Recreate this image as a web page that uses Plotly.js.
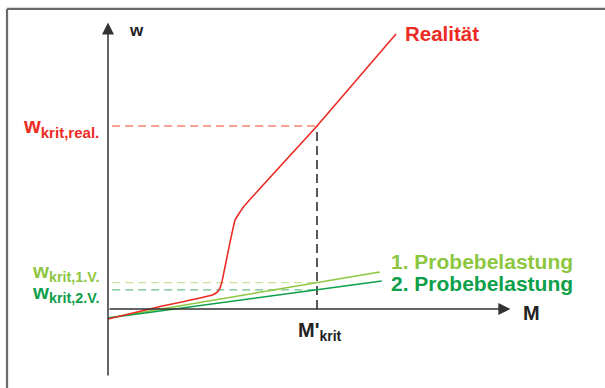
<!DOCTYPE html>
<html>
<head>
<meta charset="utf-8">
<script src="https://cdn.plot.ly/plotly-3.0.1.min.js"></script>
<style>
  html, body { margin: 0; padding: 0; background: #fff; }
  #chart { width: 605px; height: 388px; }
</style>
</head>
<body>
<div id="chart"></div>
<script>
// Deflection w versus moment M: real behaviour and two proof-load tests
const realM = [0, 0.26, 0.5, 0.525, 0.536, 0.545, 0.608, 0.65, 1.0, 1.378];
const realW = [-0.055, 0.016, 0.077, 0.095, 0.115, 0.148, 0.486, 0.56, 1.0, 1.503];

const probe1M = [0, 1.30];
const probe1W = [-0.049, 0.202];
const probe2M = [0, 1.31];
const probe2W = [-0.049, 0.153];

// Critical values read at M'krit
const mKrit = 1.0;
const wKritReal = 1.0;
const wKrit1 = 0.144;
const wKrit2 = 0.105;

// Axis extents
const mAxisEnd = 1.925;
const wAxisTop = 1.565;
const wAxisBottom = -0.372;
const guideStart = 0.02;

const RED = '#ec2b24';
const GREEN1 = '#8dc63f';
const GREEN2 = '#0e9f4a';
const FONT = '"Liberation Sans", Arial, Helvetica, sans-serif';

const traces = [
  // guide lines to the critical values
  { x: [guideStart, mKrit], y: [wKritReal, wKritReal], mode: 'lines',
    line: { color: '#f3836f', width: 1.3, dash: '8px,5px' } },
  { x: [guideStart, mKrit], y: [wKrit1, wKrit1], mode: 'lines',
    line: { color: '#c6e2a0', width: 1.3, dash: '8px,5px' } },
  { x: [guideStart, mKrit], y: [wKrit2, wKrit2], mode: 'lines',
    line: { color: '#6cc08c', width: 1.3, dash: '8px,5px' } },
  { x: [mKrit, mKrit], y: [0, wKritReal], mode: 'lines',
    line: { color: '#222', width: 1.5, dash: '9px,5px' } },
  // curves
  { x: probe1M, y: probe1W, mode: 'lines', line: { color: GREEN1, width: 1.5 } },
  { x: probe2M, y: probe2W, mode: 'lines', line: { color: GREEN2, width: 1.5 } },
  { x: realM, y: realW, mode: 'lines', line: { color: RED, width: 1.6, shape: 'spline', smoothing: 0.3 } }
];

function arrow(x, y, ax, ay) {
  return { x: x, y: y, ax: ax, ay: ay, xref: 'x', yref: 'y', axref: 'x', ayref: 'y',
    text: '', showarrow: true, arrowhead: 2, arrowsize: 1.6, arrowwidth: 1.5,
    arrowcolor: '#333', standoff: 0, startstandoff: 0 };
}

function label(x, y, text, color, size, xanchor) {
  return { x: x, y: y, xref: 'x', yref: 'y', text: text, showarrow: false,
    xanchor: xanchor || 'left', yanchor: 'middle',
    font: { family: FONT, size: size, color: color } };
}

const annotations = [
  arrow(0, wAxisTop, 0, wAxisBottom),
  arrow(mAxisEnd, 0, 0, 0),
  label(0.09, 1.52, '<b>w</b>', '#222', 17),
  label(1.975, -0.02, '<b>M</b>', '#222', 20),
  label(1.41, 1.508, '<b>Realität</b>', RED, 20.5),
  label(1.345, 0.257, '<b>1. Probebelastung</b>', GREEN1, 21),
  label(1.345, 0.14, '<b>2. Probebelastung</b>', GREEN2, 21),
  label(0.9, -0.125, "<b>M'<sub>krit</sub></b>", '#222', 20),
  label(-0.033, 0.99, '<b>w<sub>krit,real.</sub></b>', RED, 21.5, 'right'),
  label(-0.033, 0.2, '<b>w<sub>krit,1.V.</sub></b>', GREEN1, 20.5, 'right'),
  label(-0.033, 0.088, '<b>w<sub>krit,2.V.</sub></b>', GREEN2, 20.5, 'right')
];

const layout = {
  width: 605, height: 388,
  margin: { l: 0, r: 0, t: 0, b: 0 },
  paper_bgcolor: '#fff', plot_bgcolor: '#fff',
  showlegend: false,
  xaxis: { range: [-0.5167, 2.378], visible: false, fixedrange: true },
  yaxis: { range: [-0.4317, 1.6885], visible: false, fixedrange: true },
  shapes: [
    { type: 'line', xref: 'paper', yref: 'paper', x0: 0.0116, x1: 1, y0: 0.977, y1: 0.977,
      line: { color: '#6a6a6a', width: 2.2 } },
    { type: 'line', xref: 'paper', yref: 'paper', x0: 0.0116, x1: 0.0116, y0: 0, y1: 0.977,
      line: { color: '#6a6a6a', width: 2.2 } }
  ],
  annotations: annotations
};

Plotly.newPlot('chart', traces, layout, { staticPlot: true, displayModeBar: false });
</script>
</body>
</html>
